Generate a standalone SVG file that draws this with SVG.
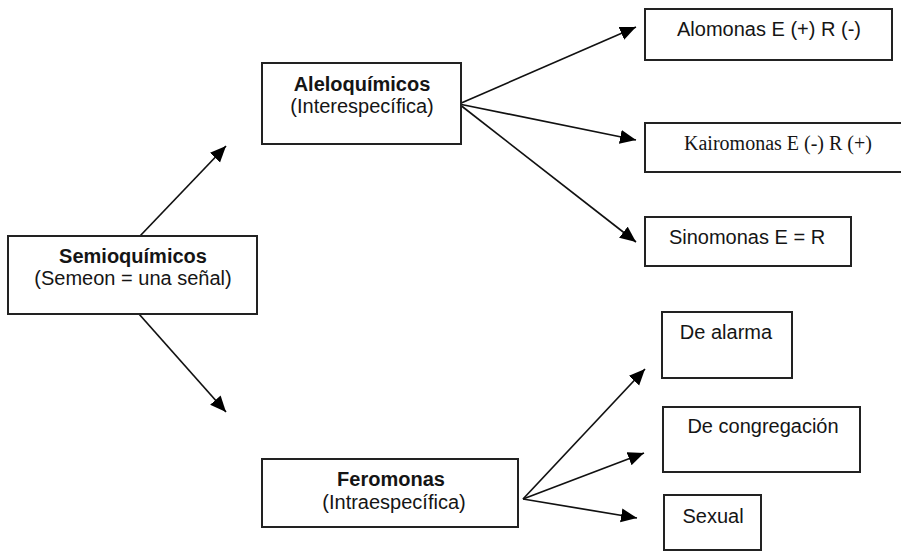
<svg xmlns="http://www.w3.org/2000/svg" width="901" height="552" viewBox="0 0 901 552">
<style>
.box{fill:#fff;stroke:#222;stroke-width:2}
.t{font-family:"Liberation Sans",Arial,sans-serif;font-size:20px;fill:#151515;text-anchor:middle}
.b{font-weight:bold}
.s{font-family:"Liberation Serif","Times New Roman",serif}
.c{fill:none;stroke:#111;stroke-width:1.7}
</style>
<defs>
<marker id="ah" markerUnits="userSpaceOnUse" markerWidth="18" markerHeight="16" refX="16" refY="7" orient="auto">
<path d="M0,0 L16,7 L0,14 z" fill="#000"/>
</marker>
</defs>
<rect width="901" height="552" fill="#fff"/>
<g id="connectors">
<line class="c" x1="140" y1="236" x2="226" y2="146" marker-end="url(#ah)"/>
<line class="c" x1="139" y1="314" x2="226" y2="412" marker-end="url(#ah)"/>
<line class="c" x1="459" y1="104" x2="636" y2="27" marker-end="url(#ah)"/>
<line class="c" x1="459" y1="104" x2="636" y2="140" marker-end="url(#ah)"/>
<line class="c" x1="459" y1="104" x2="636" y2="242" marker-end="url(#ah)"/>
<line class="c" x1="523" y1="499" x2="645" y2="369" marker-end="url(#ah)"/>
<line class="c" x1="523" y1="499" x2="644" y2="453" marker-end="url(#ah)"/>
<line class="c" x1="523" y1="499" x2="637" y2="518" marker-end="url(#ah)"/>
</g>
<g id="semioquimicos">
<rect class="box" x="8" y="236" width="249" height="78"/>
<text class="t b" x="133" y="263">Semioquímicos</text>
<text class="t" x="133" y="285">(Semeon = una señal)</text>
</g>
<g id="aleloquimicos">
<rect class="box" x="262" y="63" width="199" height="81"/>
<text class="t b" x="362" y="91">Aleloquímicos</text>
<text class="t" x="362" y="113">(Interespecífica)</text>
</g>
<g id="alomonas">
<rect class="box" x="645" y="9" width="247" height="51"/>
<text class="t" x="769" y="36">Alomonas E (+) R (-)</text>
</g>
<g id="kairomonas">
<rect class="box" x="645" y="123" width="262" height="49"/>
<text class="t s" x="778" y="150">Kairomonas E (-) R (+)</text>
</g>
<g id="sinomonas">
<rect class="box" x="645" y="217" width="206" height="49"/>
<text class="t" x="747" y="244">Sinomonas E = R</text>
</g>
<g id="feromonas">
<rect class="box" x="262" y="459" width="256" height="68"/>
<text class="t b" x="391" y="486">Feromonas</text>
<text class="t" x="394" y="509">(Intraespecífica)</text>
</g>
<g id="de-alarma">
<rect class="box" x="662" y="312" width="130" height="66"/>
<text class="t" x="726" y="339">De alarma</text>
</g>
<g id="de-congregacion">
<rect class="box" x="663" y="407" width="197" height="65"/>
<text class="t" x="763" y="433">De congregación</text>
</g>
<g id="sexual">
<rect class="box" x="664" y="495" width="97" height="55"/>
<text class="t" x="713" y="523">Sexual</text>
</g>
</svg>
